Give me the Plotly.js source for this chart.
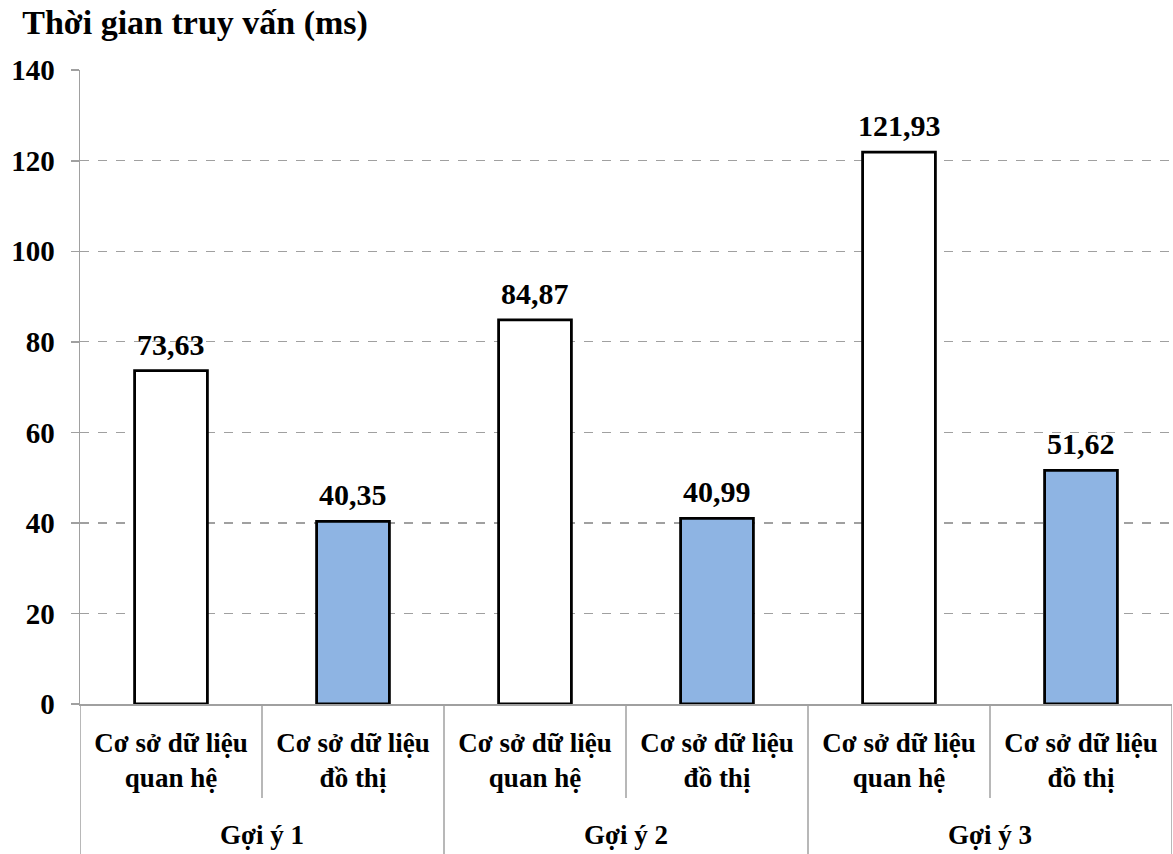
<!DOCTYPE html>
<html>
<head>
<meta charset="utf-8">
<script src="https://cdn.plot.ly/plotly-3.0.1.min.js"></script>
<style>html,body{margin:0;padding:0;background:#fff;}#chart{width:1173px;height:854px;}</style>
</head>
<body>
<div id="chart"></div>
<script>
const groups = ['Gợi ý 1', 'Gợi ý 2', 'Gợi ý 3'];
const subcategories = ['Cơ sở dữ liệu<br>quan hệ', 'Cơ sở dữ liệu<br>đồ thị'];
const relationalValues = [73.63, 84.87, 121.93];
const graphValues = [40.35, 40.99, 51.62];
const titleText = 'Thời gian truy vấn (ms)';
const yTicks = [0, 20, 40, 60, 80, 100, 120, 140];

const FONT = 'Liberation Serif, Times New Roman, serif';
const GRAY = '#a0a0a0';
const nSub = subcategories.length;
const seriesValues = [relationalValues, graphValues];
const seriesColors = ['#ffffff', '#8eb4e3'];

// positions on the linear x axis: group g, subcategory s -> g*nSub + s
const xPos = (g, s) => g * nSub + s;

const data = seriesValues.map((vals, s) => ({
  type: 'bar',
  x: groups.map((_, g) => xPos(g, s)),
  y: vals,
  width: 0.4,
  marker: {color: seriesColors[s], line: {color: '#000', width: 2.8}},
  hoverinfo: 'skip',
  showlegend: false
}));

const tickvals = [], ticktext = [];
groups.forEach((_, g) => subcategories.forEach((lab, s) => { tickvals.push(xPos(g, s)); ticktext.push(lab); }));

const annotations = [];
seriesValues.forEach((vals, s) => vals.forEach((v, g) => {
  annotations.push({
    x: xPos(g, s), y: v, xref: 'x', yref: 'y',
    text: v.toFixed(2).replace('.', ','),
    showarrow: false, yanchor: 'bottom', yshift: 8,
    font: {family: FONT, size: 30, color: '#000', weight: 'bold'}
  });
}));
groups.forEach((gName, g) => {
  annotations.push({
    x: xPos(g, 0) + (nSub - 1) / 2, y: 0, xref: 'x', yref: 'paper',
    text: gName, showarrow: false, yanchor: 'middle', yshift: -131,
    font: {family: FONT, size: 27, color: '#000', weight: 'bold'}
  });
});

const plotH = 854 - 70 - 150;
const shapes = [];
for (let g = 0; g < groups.length; g++) {
  for (let s = 0; s < nSub; s++) {
    const b = xPos(g, s) - 0.5;
    const isGroupEdge = s === 0;
    shapes.push({
      type: 'line', xref: 'x', yref: 'paper', layer: 'above',
      x0: b, x1: b, y0: 0, y1: isGroupEdge ? -150 / plotH : -94 / plotH,
      line: {color: GRAY, width: 1.5}
    });
  }
}
const lastEdge = xPos(groups.length - 1, nSub - 1) + 0.5;
shapes.push({type: 'line', xref: 'x', yref: 'paper', layer: 'above',
  x0: lastEdge, x1: lastEdge, y0: 0, y1: -150 / plotH, line: {color: GRAY, width: 1.5}});

const layout = {
  width: 1173, height: 854,
  margin: {l: 80, r: 1, t: 70, b: 150},
  paper_bgcolor: '#fff', plot_bgcolor: '#fff',
  font: {family: FONT, color: '#000', size: 27, weight: 'bold'},
  title: {
    text: titleText,
    x: 0.019, xref: 'container', xanchor: 'left',
    y: 0.974, yref: 'container', yanchor: 'middle',
    font: {family: FONT, size: 34, color: '#000', weight: 'bold'}
  },
  xaxis: {
    range: [-0.5, lastEdge],
    tickvals: tickvals, ticktext: ticktext,
    showline: true, linecolor: GRAY, linewidth: 1.5,
    ticks: '', ticklabelstandoff: 14,
    showgrid: false, zeroline: false, fixedrange: true,
    tickfont: {family: FONT, size: 27, color: '#000', weight: 'bold'}
  },
  yaxis: {
    range: [0, 140.05],
    tickvals: yTicks,
    showline: true, linecolor: GRAY, linewidth: 1.5,
    ticks: 'outside', ticklen: 8, tickcolor: GRAY, tickwidth: 1.5,
    ticklabelstandoff: 10,
    showgrid: true, gridcolor: GRAY, griddash: 'dash', gridwidth: 1.2,
    zeroline: false,
    tickfont: {family: FONT, size: 29, color: '#000', weight: 'bold'}
  },
  annotations: annotations,
  shapes: shapes
};

Plotly.newPlot('chart', data, layout, {displayModeBar: false, staticPlot: true});
</script>
</body>
</html>
